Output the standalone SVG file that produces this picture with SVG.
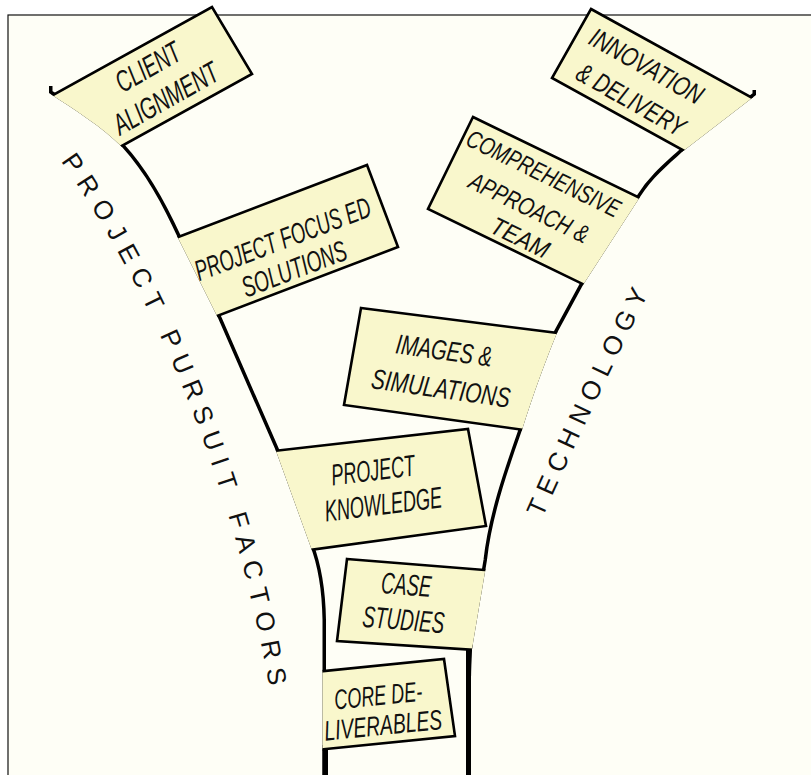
<svg xmlns="http://www.w3.org/2000/svg" xmlns:xlink="http://www.w3.org/1999/xlink" width="811" height="775" viewBox="0 0 811 775">
<style>
.note{fill:#f9f7cc;stroke:#000;stroke-width:2.6;stroke-linejoin:miter}
.wall{fill:none;stroke:#000;stroke-width:7;stroke-linejoin:round}
.lbl{font-family:"Liberation Sans","DejaVu Sans",sans-serif;font-style:italic;fill:#111;text-anchor:middle}
.curve{font-family:"Liberation Sans","DejaVu Sans",sans-serif;font-size:26px;fill:#111}
</style>
<defs>
<clipPath id="funnel">
<path d="M49,0 L49,93 C75,110 102,127 122,147 C145,172 163,205 178,238 L218,318 L276,451 L310,545 C318,566 322,590 322.5,620 L322.5,780 L471,780 L471,700 C471,680 471,660 472,649 L485,572 L487,560 C492,515 508,470 522,430 C533,395 545,362 557,333 L583,285 L640,197 C652,178 668,165 682,152 L756,95 L756,0 Z"/>
</clipPath>
<path id="ppf" d="M55,153 C143,273 240,483 275,723"/>
<path id="tech" d="M533,539 Q588,414 658,274"/>
</defs>
<rect x="0" y="0" width="811" height="775" fill="#ffffff"/>
<rect x="8" y="15" width="820" height="780" fill="#fefef6" stroke="#111" stroke-width="1.2"/>

<g id="connectors" clip-path="url(#funnel)">
<path class="wall" d="M49,86 L49,93 C75,110 102,127 122,147 C145,172 163,205 178,238 L218,318 L276,451 L310,545 C318,566 322,590 322.5,620 L322.5,780"/>
<path class="wall" d="M756,90 L756,95 L682,152 C668,165 652,178 640,197 L583,285 L557,333 C545,362 533,395 522,430 C508,470 492,515 487,560 L485,572 L472,649 C471,660 471,680 471,700 L471,780"/>
<path class="wall" style="stroke-width:11" d="M322.5,745 L322.5,780"/>
<path class="wall" style="stroke-width:10" d="M471,645 L471,780"/>
</g>

<g id="client-alignment">
<polygon class="note" clip-path="url(#funnel)" points="44,100 212,7 252,74 82,168"/>
<g transform="translate(156.5,82) rotate(-29.5)" class="lbl" style="font-size:30px">
<text y="-7" textLength="70" lengthAdjust="spacingAndGlyphs">CLIENT</text>
<text y="29" textLength="116" lengthAdjust="spacingAndGlyphs">ALIGNMENT</text>
</g>
</g>

<g id="innovation-delivery">
<polygon class="note" clip-path="url(#funnel)" points="591,9 765,105 726,174 552,78"/>
<g transform="translate(637.5,82) rotate(29.5)" class="lbl" style="font-size:27px">
<text y="-9" textLength="126" lengthAdjust="spacingAndGlyphs">INNOVATION</text>
<text x="3" y="28" textLength="120" lengthAdjust="spacingAndGlyphs">&amp; DELIVERY</text>
</g>
</g>

<g id="project-focused-solutions">
<polygon class="note" clip-path="url(#funnel)" points="152,247 367,165 398,247 183,329"/>
<g transform="translate(288,253) rotate(-20.8)" class="lbl" style="font-size:29px">
<text y="-5" textLength="186" lengthAdjust="spacingAndGlyphs">PROJECT FOCUS ED</text>
<text y="27" textLength="110" lengthAdjust="spacingAndGlyphs">SOLUTIONS</text>
</g>
</g>

<g id="comprehensive-approach">
<polygon class="note" clip-path="url(#funnel)" points="473,117 671,213 626,305 428,209"/>
<g transform="translate(528,210) rotate(26)" class="lbl" style="font-size:25px">
<text x="-2" y="-31" textLength="168" lengthAdjust="spacingAndGlyphs">COMPREHENSIVE</text>
<text x="0" y="6" textLength="130" lengthAdjust="spacingAndGlyphs">APPROACH &amp;</text>
<text x="5" y="37" textLength="62" lengthAdjust="spacingAndGlyphs">TEAM</text>
</g>
</g>

<g id="images-simulations">
<polygon class="note" clip-path="url(#funnel)" points="361,308 589,337 582,438 344,405"/>
<g transform="translate(442.5,369) rotate(8)" class="lbl" style="font-size:28px">
<text x="-1" y="-9" textLength="97" lengthAdjust="spacingAndGlyphs">IMAGES &amp;</text>
<text x="1" y="29" textLength="140" lengthAdjust="spacingAndGlyphs">SIMULATIONS</text>
</g>
</g>

<g id="project-knowledge">
<polygon class="note" clip-path="url(#funnel)" points="239,455 468,429 486,526 258,557"/>
<g transform="translate(378,486) rotate(-7)" class="lbl" style="font-size:30px">
<text x="-3" y="-6" textLength="84" lengthAdjust="spacingAndGlyphs">PROJECT</text>
<text x="3" y="29" textLength="118" lengthAdjust="spacingAndGlyphs">KNOWLEDGE</text>
</g>
</g>

<g id="case-studies">
<polygon class="note" clip-path="url(#funnel)" points="347,559 546,575 537,654 337,641"/>
<g transform="translate(405,601) rotate(4.5)" class="lbl" style="font-size:30px">
<text y="-6" textLength="50" lengthAdjust="spacingAndGlyphs">CASE</text>
<text y="29" textLength="82" lengthAdjust="spacingAndGlyphs">STUDIES</text>
</g>
</g>

<g id="core-deliverables">
<polygon class="note" clip-path="url(#funnel)" points="245,679 444,659 455,736 256,756"/>
<g transform="translate(380.5,709) rotate(-5.7)" class="lbl" style="font-size:28px">
<text x="-1" y="-4" textLength="88" lengthAdjust="spacingAndGlyphs">CORE DE-</text>
<text x="1" y="26" textLength="118" lengthAdjust="spacingAndGlyphs">LIVERABLES</text>
</g>
</g>

<g id="label-project-pursuit-factors">
<text class="curve" style="letter-spacing:9px"><textPath href="#ppf" startOffset="10">PROJECT PURSUIT FACTORS</textPath></text>
</g>
<g id="label-technology">
<text class="curve" style="letter-spacing:7.4px"><textPath href="#tech" startOffset="23">TECHNOLOGY</textPath></text>
</g>
</svg>
